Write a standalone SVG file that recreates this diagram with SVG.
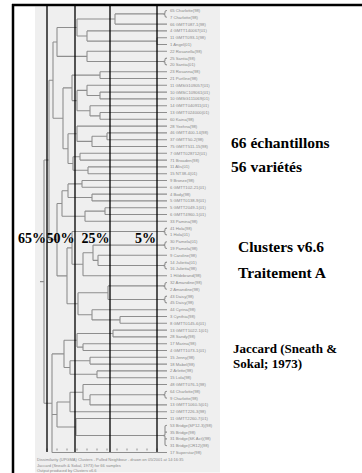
<svg xmlns="http://www.w3.org/2000/svg" width="362" height="473" viewBox="0 0 362 473">
<style>
.bg{fill:#efefef}
.frame{stroke:#000;stroke-width:2.5;fill:none}
.cut{stroke:#000;stroke-width:1.3;fill:none}
.tree{stroke:#8e8e8e;stroke-width:1.1;fill:none}
.tick{stroke:#8e8e8e;stroke-width:1;fill:none}
.lf{font-family:"Liberation Sans",Arial,sans-serif;font-size:4.2px;fill:#8a8a8a}
.ft{font-family:"Liberation Sans",Arial,sans-serif;font-size:4px;fill:#8a8a8a}
.pct{font-family:"Liberation Serif","Times New Roman",serif;font-weight:bold;font-size:14px;fill:#000;text-anchor:end}
.big{font-family:"Liberation Serif","Times New Roman",serif;font-weight:bold;font-size:15.5px;fill:#000}
.mid{font-family:"Liberation Serif","Times New Roman",serif;font-weight:bold;font-size:13px;fill:#000}
</style>
<rect class="bg" x="35" y="6.5" width="185" height="466"/>
<g id="frame">
<path class="frame" d="M12 5H362M13 4V473"/>
</g>
<g id="connectors">
<path class="tree" d="
M115 13.9V24.1M115 13.9H163M115 24.1H167
M157 37.7V44.5M157 37.7H167M157 44.5H167
M87 30.9V41.1M87 30.9H167M87 41.1H157
M77 19V36M77 19H115M77 36H87
M87 51.3V61.5M87 51.3H167M87 61.5H163
M57 27.5V56.4M57 27.5H77M57 56.4H87
M100 71.7V78.5M100 71.7H167M100 78.5H167
M100 92.1V98.9M100 92.1H167M100 98.9H167
M87 85.3V95.5M87 85.3H167M87 95.5H100
M100 112.5V119.3M100 112.5H167M100 119.3H167
M90 105.7V115.9M90 105.7H167M90 115.9H100
M77 90.4V110.8M77 90.4H87M77 110.8H90
M72 75.1V100.6M72 75.1H100M72 100.6H77
M107 132.9V139.7M107 132.9H167M107 139.7H167
M92 136.3V146.5M92 136.3H107M92 146.5H167
M77 126.1V141.4M77 126.1H167M77 141.4H92
M80 153.3V160.1M80 153.3H167M80 160.1H167
M88 166.9V173.7M88 166.9H167M88 173.7H167
M73 156.7V170.3M73 156.7H80M73 170.3H88
M68 133.8V163.5M68 133.8H77M68 163.5H73
M63 87.9V148.7M63 87.9H72M63 148.7H68
M53 42V118.3M53 42H57M53 118.3H63
M82 180.5V187.3M82 180.5H167M82 187.3H167
M92 194.1V200.9M92 194.1H167M92 200.9H167
M68 183.9V197.5M68 183.9H82M68 197.5H92
M105 207.7V214.5M105 207.7H167M105 214.5H167
M85 211.1V221.3M85 211.1H105M85 221.3H167
M62 190.7V216.2M62 190.7H68M62 216.2H85
M98 255.3V265.5M98 255.3H167M98 265.5H163
M93 245.1V260.4M93 245.1H163M93 260.4H98
M83 252.8V275.7M83 252.8H93M83 275.7H167
M72 231.5V264.3M72 231.5H163M72 264.3H83
M108 285.9V299.5M108 285.9H163M108 299.5H163
M120 316.5V323.3M120 316.5H167M120 323.3H167
M92 309.7V319.9M92 309.7H167M92 319.9H120
M78 292.7V314.8M78 292.7H108M78 314.8H92
M67 247.9V303.8M67 247.9H72M67 303.8H78
M57 203.5V275.9M57 203.5H62M57 275.9H67
M49 80.2V239.7M49 80.2H53M49 239.7H57
M113 330.1V336.9M113 330.1H167M113 336.9H167
M83 343.7V350.5M83 343.7H167M83 350.5H167
M77 333.5V347.1M77 333.5H113M77 347.1H83
M90 357.3V364.1M90 357.3H167M90 364.1H167
M97 370.9V377.7M97 370.9H167M97 377.7H167
M70 360.7V374.3M70 360.7H90M70 374.3H97
M64 340.3V367.5M64 340.3H77M64 367.5H70
M90 394.7V404.9M90 394.7H163M90 404.9H167
M83 384.5V399.8M83 384.5H167M83 399.8H90
M70 392.2V411.7M70 392.2H83M70 411.7H167
M76 418.5V435.5M76 418.5H167M76 435.5H163
M57 402V427M57 402H70M57 427H76
M52 353.9V452.5M52 353.9H64M52 414.5H57M52 452.5H167
M44 160V403.2M44 160H49M44 403.2H52M40 281.6H44
"/>
<path class="tree" stroke-width="0.9" d="
M167 10.5Q165 10.5 165 11.7V12.9Q165 13.9 163 13.9Q165 13.9 165 14.9V16.1Q165 17.3 167 17.3
M167 58.1Q165 58.1 165 59.3V60.5Q165 61.5 163 61.5Q165 61.5 165 62.5V63.7Q165 64.9 167 64.9
M167 228.1Q165 228.1 165 229.3V230.5Q165 231.5 163 231.5Q165 231.5 165 232.5V233.7Q165 234.9 167 234.9
M167 241.7Q165 241.7 165 242.9V244.1Q165 245.1 163 245.1Q165 245.1 165 246.1V247.3Q165 248.5 167 248.5
M167 262.1Q165 262.1 165 263.3V264.5Q165 265.5 163 265.5Q165 265.5 165 266.5V267.7Q165 268.9 167 268.9
M167 282.5Q165 282.5 165 283.7V284.9Q165 285.9 163 285.9Q165 285.9 165 286.9V288.1Q165 289.3 167 289.3
M167 296.1Q165 296.1 165 297.3V298.5Q165 299.5 163 299.5Q165 299.5 165 300.5V301.7Q165 302.9 167 302.9
M167 391.3Q165 391.3 165 392.5V393.7Q165 394.7 163 394.7Q165 394.7 165 395.7V396.9Q165 398.1 167 398.1
M167 425.3Q165 425.3 165 426.5V434.5Q165 435.5 163 435.5Q165 435.5 165 436.5V444.5Q165 445.7 167 445.7M165 432.1H167M165 438.9H167
"/>
<path class="tick" d="M47 448.5v2M57 448.5v2M67 448.5v2M77 448.5v2M87 448.5v2M97 448.5v2M107 448.5v2M117 448.5v2M127 448.5v2M137 448.5v2M147 448.5v2M157 448.5v2"/>
</g>
<g id="cut-lines">
<path class="cut" d="M47 5V452M75 5V452M110 5V452M157 5V452"/>
</g>
<g id="cut-labels">
<text class="pct" x="46" y="243">65%</text>
<text class="pct" x="74.5" y="243">50%</text>
<text class="pct" x="109.5" y="243">25%</text>
<text class="pct" x="156" y="243">5%</text>
</g>
<g id="leaves">
<g id="leaf-00"><text class="lf" x="170" y="11.9">65 Charlotte(98)</text></g>
<g id="leaf-01"><text class="lf" x="170" y="18.7">7 Charlotte(98)</text></g>
<g id="leaf-02"><text class="lf" x="170" y="25.5">66 GMTT087-1(98)</text></g>
<g id="leaf-03"><text class="lf" x="170" y="32.3">4 GMTT140067(01)</text></g>
<g id="leaf-04"><text class="lf" x="170" y="39.1">11 GMTT093-1(98)</text></g>
<g id="leaf-05"><text class="lf" x="170" y="45.9">1 Angel(01)</text></g>
<g id="leaf-06"><text class="lf" x="170" y="52.7">22 Rosanella(98)</text></g>
<g id="leaf-07"><text class="lf" x="170" y="59.5">25 Santia(98)</text></g>
<g id="leaf-08"><text class="lf" x="170" y="66.3">20 Santia(01)</text></g>
<g id="leaf-09"><text class="lf" x="170" y="73.1">23 Rosanna(98)</text></g>
<g id="leaf-10"><text class="lf" x="170" y="79.9">21 Purtline(98)</text></g>
<g id="leaf-11"><text class="lf" x="170" y="86.7">11 GMSG109057(01)</text></g>
<g id="leaf-12"><text class="lf" x="170" y="93.5">10 GMSC109061(01)</text></g>
<g id="leaf-13"><text class="lf" x="170" y="100.3">10 GMSG111069(01)</text></g>
<g id="leaf-14"><text class="lf" x="170" y="107.1">14 GMTT040911(01)</text></g>
<g id="leaf-15"><text class="lf" x="170" y="113.9">13 GMTT024000(01)</text></g>
<g id="leaf-16"><text class="lf" x="170" y="120.7">60 Kaina(98)</text></g>
<g id="leaf-17"><text class="lf" x="170" y="127.5">28 Yeehna(98)</text></g>
<g id="leaf-18"><text class="lf" x="170" y="134.3">46 GMTT400-14(98)</text></g>
<g id="leaf-19"><text class="lf" x="170" y="141.1">37 GMTT50-2(98)</text></g>
<g id="leaf-20"><text class="lf" x="170" y="147.9">75 GMTT511-15(98)</text></g>
<g id="leaf-21"><text class="lf" x="170" y="154.7">7 GMTT028712(01)</text></g>
<g id="leaf-22"><text class="lf" x="170" y="161.5">71 Broaden(98)</text></g>
<g id="leaf-23"><text class="lf" x="170" y="168.3">11 Alis(01)</text></g>
<g id="leaf-24"><text class="lf" x="170" y="175.1">15 NT38-4(01)</text></g>
<g id="leaf-25"><text class="lf" x="170" y="181.9">9 Bronze(98)</text></g>
<g id="leaf-26"><text class="lf" x="170" y="188.7">6 GMTT102-21(01)</text></g>
<g id="leaf-27"><text class="lf" x="170" y="195.5">4 Body(98)</text></g>
<g id="leaf-28"><text class="lf" x="170" y="202.3">5 GMTT0138-9(01)</text></g>
<g id="leaf-29"><text class="lf" x="170" y="209.1">5 GMTT2049-1(01)</text></g>
<g id="leaf-30"><text class="lf" x="170" y="215.9">6 GMTT4960-1(01)</text></g>
<g id="leaf-31"><text class="lf" x="170" y="222.7">33 Pamina(98)</text></g>
<g id="leaf-32"><text class="lf" x="170" y="229.5">41 Hola(98)</text></g>
<g id="leaf-33"><text class="lf" x="170" y="236.3">1 Hola(01)</text></g>
<g id="leaf-34"><text class="lf" x="170" y="243.1">30 Pamela(01)</text></g>
<g id="leaf-35"><text class="lf" x="170" y="249.9">19 Pamela(98)</text></g>
<g id="leaf-36"><text class="lf" x="170" y="256.7">9 Caroline(98)</text></g>
<g id="leaf-37"><text class="lf" x="170" y="263.5">14 Julietta(01)</text></g>
<g id="leaf-38"><text class="lf" x="170" y="270.3">16 Julietta(98)</text></g>
<g id="leaf-39"><text class="lf" x="170" y="277.1">1 Hildebrand(98)</text></g>
<g id="leaf-40"><text class="lf" x="170" y="283.9">32 Amandine(98)</text></g>
<g id="leaf-41"><text class="lf" x="170" y="290.7">2 Amandine(98)</text></g>
<g id="leaf-42"><text class="lf" x="170" y="297.5">43 Daisy(98)</text></g>
<g id="leaf-43"><text class="lf" x="170" y="304.3">45 Daisy(98)</text></g>
<g id="leaf-44"><text class="lf" x="170" y="311.1">44 Cyrina(98)</text></g>
<g id="leaf-45"><text class="lf" x="170" y="317.9">3 Cynthia(98)</text></g>
<g id="leaf-46"><text class="lf" x="170" y="324.7">8 GMTT0145-6(01)</text></g>
<g id="leaf-47"><text class="lf" x="170" y="331.5">13 GMTT1022-1(01)</text></g>
<g id="leaf-48"><text class="lf" x="170" y="338.3">28 Sandy(98)</text></g>
<g id="leaf-49"><text class="lf" x="170" y="345.1">17 Marina(98)</text></g>
<g id="leaf-50"><text class="lf" x="170" y="351.9">4 GMTT1073-1(01)</text></g>
<g id="leaf-51"><text class="lf" x="170" y="358.7">15 Jenny(98)</text></g>
<g id="leaf-52"><text class="lf" x="170" y="365.5">18 Mabel(98)</text></g>
<g id="leaf-53"><text class="lf" x="170" y="372.3">2 Arlette(98)</text></g>
<g id="leaf-54"><text class="lf" x="170" y="379.1">15 Lola(98)</text></g>
<g id="leaf-55"><text class="lf" x="170" y="385.9">48 GMTT076-1(98)</text></g>
<g id="leaf-56"><text class="lf" x="170" y="392.7">64 Charlotte(98)</text></g>
<g id="leaf-57"><text class="lf" x="170" y="399.5">9 Charlotte(98)</text></g>
<g id="leaf-58"><text class="lf" x="170" y="406.3">13 GMTT1060-5(01)</text></g>
<g id="leaf-59"><text class="lf" x="170" y="413.1">12 GMTT226-3(98)</text></g>
<g id="leaf-60"><text class="lf" x="170" y="419.9">11 GMTT2260-7(01)</text></g>
<g id="leaf-61"><text class="lf" x="170" y="426.7">53 Bridge(SP12-3)(98)</text></g>
<g id="leaf-62"><text class="lf" x="170" y="433.5">35 Bridge(98)</text></g>
<g id="leaf-63"><text class="lf" x="170" y="440.3">31 Bridge(SK Act)(98)</text></g>
<g id="leaf-64"><text class="lf" x="170" y="447.1">31 Bridge(CR12)(98)</text></g>
<g id="leaf-65"><text class="lf" x="170" y="453.9">17 Superstar(98)</text></g>
</g>
<g id="footer">
<text class="ft" x="37" y="461">Dissimilarity (UPGMA) Clusters - Pulled Neighbour - drawn on 05/2001 at 14:16:35</text>
<text class="ft" x="37" y="466.5">Jaccard (Sneath &amp; Sokal, 1973) for 66 samples</text>
<text class="ft" x="37" y="472">Output produced by Clusters v6.6</text>
</g>
<g id="note-samples"><text class="big" x="231" y="148">66 échantillons</text></g>
<g id="note-varieties"><text class="big" x="231" y="172">56 variétés</text></g>
<g id="note-clusters"><text class="big" x="238" y="252">Clusters v6.6</text></g>
<g id="note-treatment"><text class="big" x="238" y="278">Traitement A</text></g>
<g id="note-jaccard"><text class="mid" x="233" y="353">Jaccard (Sneath &amp;</text><text class="mid" x="233" y="368">Sokal; 1973)</text></g>
</svg>
